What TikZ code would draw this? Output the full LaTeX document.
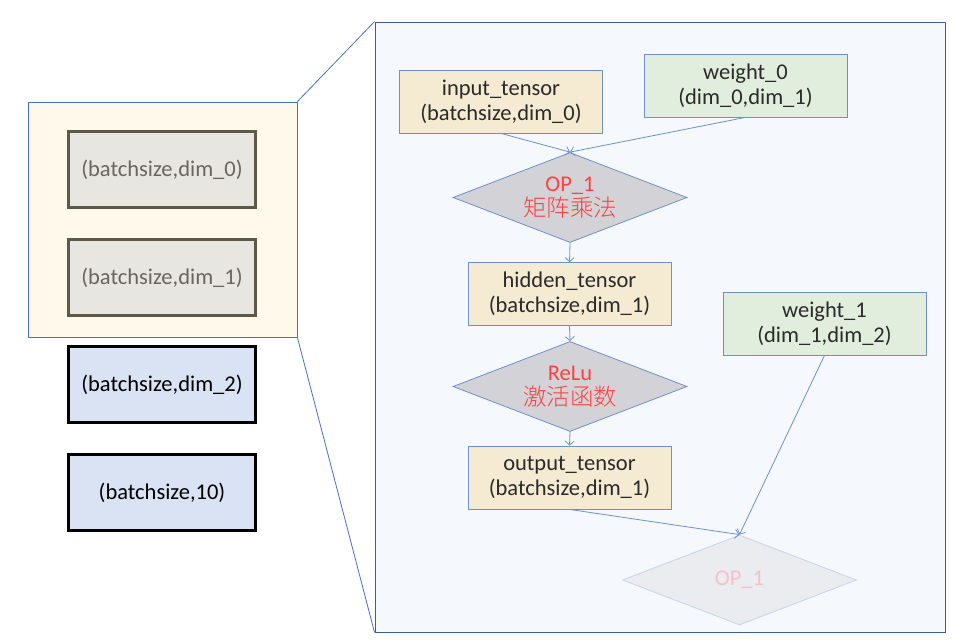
\documentclass[tikz,border=0pt]{standalone}
\usepackage{fontspec}
\setmainfont{Carlito}
\newfontfamily\cjk{Noto Sans CJK SC Light}
\usetikzlibrary{shapes.geometric,arrows.meta}
\definecolor{frameblue}{HTML}{4472C4}
\definecolor{panelblue}{HTML}{3D5C9E}
\definecolor{flowblue}{HTML}{6F8FCB}
\definecolor{cream}{HTML}{FFF9EB}
\definecolor{panelfill}{HTML}{F5F8FD}
\definecolor{tanfill}{HTML}{F5EBD3}
\definecolor{greenfill}{HTML}{E2EEDD}
\definecolor{greyfill}{HTML}{E7E6E1}
\definecolor{greyline}{HTML}{5E5849}
\definecolor{greytext}{HTML}{6A655E}
\definecolor{bluefill}{HTML}{DAE3F3}
\definecolor{opfill}{HTML}{D3D3D7}
\definecolor{opred}{HTML}{FF4040}
\definecolor{ghostfill}{HTML}{EBECF0}
\definecolor{ghostline}{HTML}{C9D3EC}
\definecolor{ghosttext}{HTML}{F4C0CB}
\definecolor{darktext}{HTML}{2A2A2A}
\tikzstyle{group}=[rectangle,draw=frameblue,fill=cream,line width=0.8pt,minimum width=269,minimum height=235]
\tikzstyle{panel}=[rectangle,draw=panelblue,fill=panelfill,line width=0.9pt,minimum width=570,minimum height=610]
\tikzstyle{oldtensor}=[rectangle,draw=greyline,fill=greyfill,line width=3pt,text=greytext,minimum width=187,minimum height=76]
\tikzstyle{newtensor}=[rectangle,draw=black,fill=bluefill,line width=3pt,minimum width=187,minimum height=76]
\tikzstyle{tensor}=[rectangle,draw=flowblue,fill=tanfill,line width=0.8pt,text=darktext,align=center,minimum width=203,minimum height=63]
\tikzstyle{weight}=[tensor,fill=greenfill]
\tikzstyle{op}=[diamond,draw=flowblue,fill=opfill,line width=0.8pt,text=opred,align=center,inner sep=0pt,aspect=2.6,minimum width=234,minimum height=90]
\tikzstyle{ghostop}=[op,draw=ghostline,fill=ghostfill,text=ghosttext]
\tikzstyle{flow}=[draw=flowblue,line width=0.8pt,-{Straight Barb[length=4pt,width=9pt]}]

\begin{document}
\begin{tikzpicture}[x=1pt,y=-1pt,font=\fontsize{22.5}{25}\selectfont]
  \useasboundingbox (0,0) rectangle (956,642);
  \def\col{162};

  \node[panel] (panel) at (660,327) {};
  \node[group] (group) at (162.5,219.5) {};
  \draw[frameblue,line width=0.8pt] (group.north east) -- (panel.north west);
  \draw[frameblue,line width=0.8pt] (group.south east) -- (panel.south west);

  \node[oldtensor] (dim 0) at (\col,169.5) {(batchsize,dim\_0)};
  \node[oldtensor] (dim 1) at (\col,277.5) {(batchsize,dim\_1)};
  \node[newtensor] (dim 2) at (\col,384.5) {(batchsize,dim\_2)};
  \node[newtensor] (dim 10) at (\col,492.5) {(batchsize,10)};

  \node[tensor] (input tensor) at (501,101.5) {input\_tensor\\(batchsize,dim\_0)};
  \node[weight] (weight 0) at (745.5,85.5) {weight\_0\\(dim\_0,dim\_1)};
  \node[op] (op 1) at (570,197.5) {OP\_1\\{\cjk\fontsize{23.5}{26}\selectfont 矩阵乘法}};
  \node[tensor] (hidden tensor) at (569.5,294) {hidden\_tensor\\(batchsize,dim\_1)};
  \node[weight] (weight 1) at (824.5,323.5) {weight\_1\\(dim\_1,dim\_2)};
  \node[op] (relu) at (570,386.5) {ReLu\\{\cjk\fontsize{23.5}{26}\selectfont 激活函数}};
  \node[tensor] (output tensor) at (569.5,477.5) {output\_tensor\\(batchsize,dim\_1)};
  \node[ghostop] (op 2) at (739.5,580) {OP\_1};

  \foreach \a/\b in {input tensor/op 1, weight 0/op 1, op 1/hidden tensor,
    hidden tensor/relu, relu/output tensor, output tensor/op 2, weight 1/op 2} {
    \draw[flow] (\a.south) -- (\b.north);
  }
\end{tikzpicture}
\end{document}
